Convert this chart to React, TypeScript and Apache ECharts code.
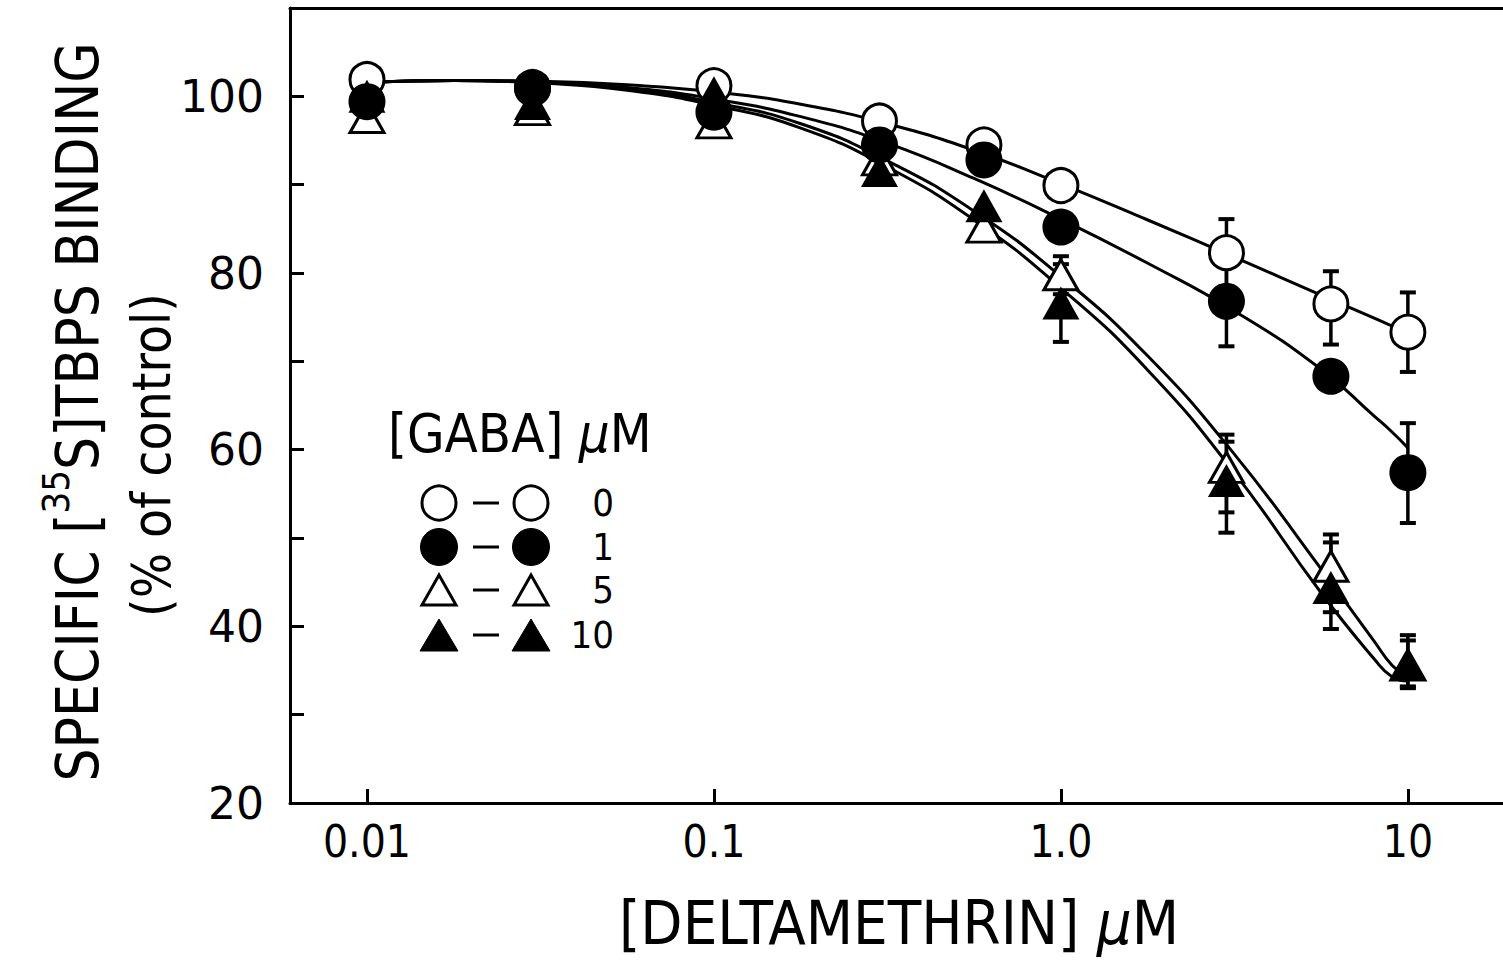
import React, { useEffect, useRef } from "react";
import * as echarts from "echarts";

// ---- data ----
const doseX = [0.01, 0.03, 0.1, 0.3, 0.6, 1, 3, 6, 10];
const gaba0 = [101.9, 101.0, 101.2, 97.2, 94.5, 89.9, 82.3, 76.5, 73.3];
const gaba1 = [99.4, 100.9, 98.2, 94.5, 92.8, 85.2, 76.8, 68.3, 57.4];
const gaba5 = [97.6, 98.5, 97.0, 92.8, 85.2, 79.8, 58.0, 46.8, 35.6];
const gaba10 = [100.0, 99.2, 100.4, 91.6, 87.6, 76.6, 56.5, 44.4, 35.7];

// error bars: [dose, low, high]
const err0 = [[3, 78.5, 86.1], [6, 71.9, 80.2], [10, 68.8, 77.8]];
const err1 = [[3, 71.7, 81.9], [10, 51.7, 63.0]];
const err5 = [[1, 77.6, 81.9], [3, 52.9, 61.7], [6, 41.6, 50.4], [10, 33.0, 39.0]];
const err10 = [[1, 72.2, 81.0], [3, 50.6, 60.9], [6, 39.7, 49.5], [10, 33.2, 38.4]];

// fitted curves
const curveX = [0.01, 0.0178, 0.0316, 0.0562, 0.1, 0.178, 0.316, 0.562, 1, 1.78, 3.16, 5.62, 8, 9, 10];
const fit0 = [101.6, 101.8, 101.7, 101.3, 100.5, 99.1, 96.9, 93.9, 90.1, 86.0, 81.8, 77.5, 74.9, 74.0, 73.2];
const fit1 = [101.6, 101.8, 101.6, 101.0, 99.7, 97.7, 94.7, 90.7, 86.1, 81.1, 75.7, 69.1, 63.8, 62.0, 60.2];
const fit5 = [101.6, 101.8, 101.6, 100.9, 99.3, 96.9, 92.7, 87.0, 79.6, 70.6, 59.5, 46.5, 38.3, 35.6, 34.2];
const fit10 = [101.6, 101.8, 101.5, 100.7, 99.0, 96.4, 92.0, 86.0, 78.3, 69.0, 57.4, 43.8, 36.3, 34.3, 33.8];

const xTickValues = [0.01, 0.1, 1, 10];
const xTickLabels = ["0.01", "0.1", "1.0", "10"];
const yTickValues = [20, 30, 40, 50, 60, 70, 80, 90, 100, 110];
const yLabelValues = [20, 40, 60, 80, 100];
const legendLabels = ["0", "1", "5", "10"];
const legendTitle = "[GABA] ";
const xTitle = "[DELTAMETHRIN] ";
const yTitleA = "SPECIFIC [";
const yTitleSup = "35";
const yTitleB = "S]TBPS BINDING";
const yTitle2 = "(% of control)";

const COND = "'DejaVu Sans Condensed', 'DejaVu Sans', sans-serif";
const WIDE = "'DejaVu Sans', sans-serif";
const INK = "#000";

const pairs = (xs: number[], ys: number[]) => xs.map((x, i) => [x, ys[i]]);

function errorSeries(data: number[][]) {
  return {
    type: "custom",
    z: 2,
    silent: true,
    data,
    encode: { x: 0, y: [1, 2] },
    renderItem: (params: any, api: any) => {
      const x = api.value(0);
      const lo = api.coord([x, api.value(1)]);
      const hi = api.coord([x, api.value(2)]);
      const hw = 8;
      return {
        type: "group",
        children: [
          { type: "line", shape: { x1: lo[0], y1: lo[1], x2: hi[0], y2: hi[1] }, style: { stroke: INK, lineWidth: 3.5 } },
          { type: "line", shape: { x1: hi[0] - hw, y1: hi[1], x2: hi[0] + hw, y2: hi[1] }, style: { stroke: INK, lineWidth: 4 } },
          { type: "line", shape: { x1: lo[0] - hw, y1: lo[1], x2: lo[0] + hw, y2: lo[1] }, style: { stroke: INK, lineWidth: 4 } },
        ],
      };
    },
  };
}

function curveSeries(ys: number[]) {
  return {
    type: "line",
    z: 1,
    silent: true,
    data: pairs(curveX, ys),
    symbol: "none",
    smooth: 0.5,
    lineStyle: { color: INK, width: 3, opacity: 1 },
  };
}

function markerSeries(ys: number[], symbol: string, filled: boolean, z: number) {
  const size = symbol === "circle" ? (filled ? 37 : 34) : filled ? [37, 33] : [34, 30];
  return {
    type: "scatter",
    z,
    silent: true,
    data: pairs(doseX, ys),
    symbol,
    symbolSize: size,
    itemStyle: filled
      ? { color: INK, borderWidth: 0, opacity: 1 }
      : { color: "#fff", borderColor: INK, borderWidth: 3, opacity: 1 },
  };
}

function buildLegend() {
  const rowsY = [503, 547, 590, 635];
  const symX1 = 439;
  const symX2 = 531;
  const children: any[] = [];
  const shapeAt = (i: number, cx: number, cy: number) => {
    const filled = i === 1 || i === 3;
    const style = filled
      ? { fill: INK, stroke: INK, lineWidth: 1 }
      : { fill: "#fff", stroke: INK, lineWidth: 3 };
    if (i < 2) {
      return { type: "circle", shape: { cx, cy, r: filled ? 18.5 : 17 }, style };
    }
    const w = filled ? 19 : 17;
    const h = filled ? 16 : 15;
    return {
      type: "polygon",
      shape: { points: [[cx - w, cy + h], [cx + w, cy + h], [cx, cy - h]] },
      style,
    };
  };
  legendLabels.forEach((lab, i) => {
    const cy = rowsY[i];
    children.push(shapeAt(i, symX1, cy));
    children.push({ type: "line", shape: { x1: 473, y1: cy, x2: 499, y2: cy }, style: { stroke: INK, lineWidth: 3 } });
    children.push(shapeAt(i, symX2, cy));
    children.push({
      type: "text",
      x: 614,
      y: cy,
      style: { text: lab, fill: INK, font: `38px ${COND}`, align: "right", verticalAlign: "middle" },
    });
  });
  children.push({
    type: "text",
    x: 388,
    y: 433,
    style: {
      text: `{n|${legendTitle}}{m|μ}{n|M}`,
      align: "left",
      verticalAlign: "middle",
      rich: {
        n: { fontSize: 54, fontFamily: COND, fill: INK },
        m: { fontSize: 54, fontFamily: COND, fontStyle: "italic", fill: INK },
      },
    },
  });
  return children;
}

export default function App() {
  const ref = useRef<HTMLDivElement>(null);
  useEffect(() => {
    if (!ref.current) return;
    const chart = echarts.init(ref.current, undefined, { renderer: "svg" });
    const axisLine = { show: true, onZero: false, lineStyle: { color: INK, width: 3 } };
    const option: any = {
      animation: false,
      backgroundColor: "#fff",
      grid: { left: 290, right: 0, top: 8, bottom: 167, containLabel: false },
      xAxis: [
        {
          type: "log",
          logBase: 10,
          min: 0.006,
          max: 18.8,
          axisLine,
          axisTick: { show: true, inside: true, length: 14, customValues: xTickValues, lineStyle: { color: INK, width: 3 } },
          axisLabel: {
            customValues: xTickValues,
            formatter: (v: number) => {
              let best = 0;
              xTickValues.forEach((t, i) => {
                if (Math.abs(Math.log10(t) - Math.log10(v)) < Math.abs(Math.log10(xTickValues[best]) - Math.log10(v))) best = i;
              });
              return xTickLabels[best];
            },
            fontSize: 44,
            fontFamily: COND,
            color: INK,
            margin: 16,
          },
          splitLine: { show: false },
        },
        {
          type: "value",
          position: "top",
          min: 0,
          max: 1,
          axisLine,
          axisTick: { show: false },
          axisLabel: { show: false },
          splitLine: { show: false },
        },
      ],
      yAxis: {
        type: "value",
        min: 20,
        max: 110,
        interval: 10,
        axisLine,
        axisTick: { show: true, inside: true, length: 14, customValues: yTickValues, lineStyle: { color: INK, width: 3 } },
        axisLabel: { customValues: yLabelValues, fontSize: 44, fontFamily: WIDE, color: INK, margin: 26 },
        splitLine: { show: false },
      },
      series: [
        curveSeries(fit0),
        curveSeries(fit1),
        curveSeries(fit5),
        curveSeries(fit10),
        errorSeries(err0),
        errorSeries(err1),
        errorSeries(err5),
        errorSeries(err10),
        markerSeries(gaba0, "circle", false, 3),
        markerSeries(gaba5, "triangle", false, 4),
        markerSeries(gaba1, "circle", true, 5),
        markerSeries(gaba10, "triangle", true, 6),
      ],
      graphic: [
        ...buildLegend(),
        {
          type: "text",
          x: 899,
          y: 922,
          style: {
            text: `{n|${xTitle}}{m|μ}{n|M}`,
            align: "center",
            verticalAlign: "middle",
            rich: {
              n: { fontSize: 61, fontFamily: COND, fill: INK },
              m: { fontSize: 61, fontFamily: COND, fontStyle: "italic", fill: INK },
            },
          },
        },
        {
          type: "text",
          x: 72,
          y: 412,
          rotation: Math.PI / 2,
          style: {
            text: `{a|${yTitleA}}{s|${yTitleSup}}{a|${yTitleB}}`,
            align: "center",
            verticalAlign: "middle",
            rich: {
              a: { fontSize: 58, fontFamily: COND, fill: INK, lineHeight: 70, verticalAlign: "bottom" },
              s: { fontSize: 38, fontFamily: COND, fill: INK, verticalAlign: "top" },
            },
          },
        },
        {
          type: "text",
          x: 151,
          y: 455,
          rotation: Math.PI / 2,
          style: { text: yTitle2, fill: INK, font: `53px ${COND}`, align: "center", verticalAlign: "middle" },
        },
      ],
    };
    chart.setOption(option);
    return () => chart.dispose();
  }, []);
  return (
    <div
      ref={ref}
      style={{ position: "fixed", left: 0, top: 0, width: 1503, height: 970, background: "#fff" }}
    />
  );
}
